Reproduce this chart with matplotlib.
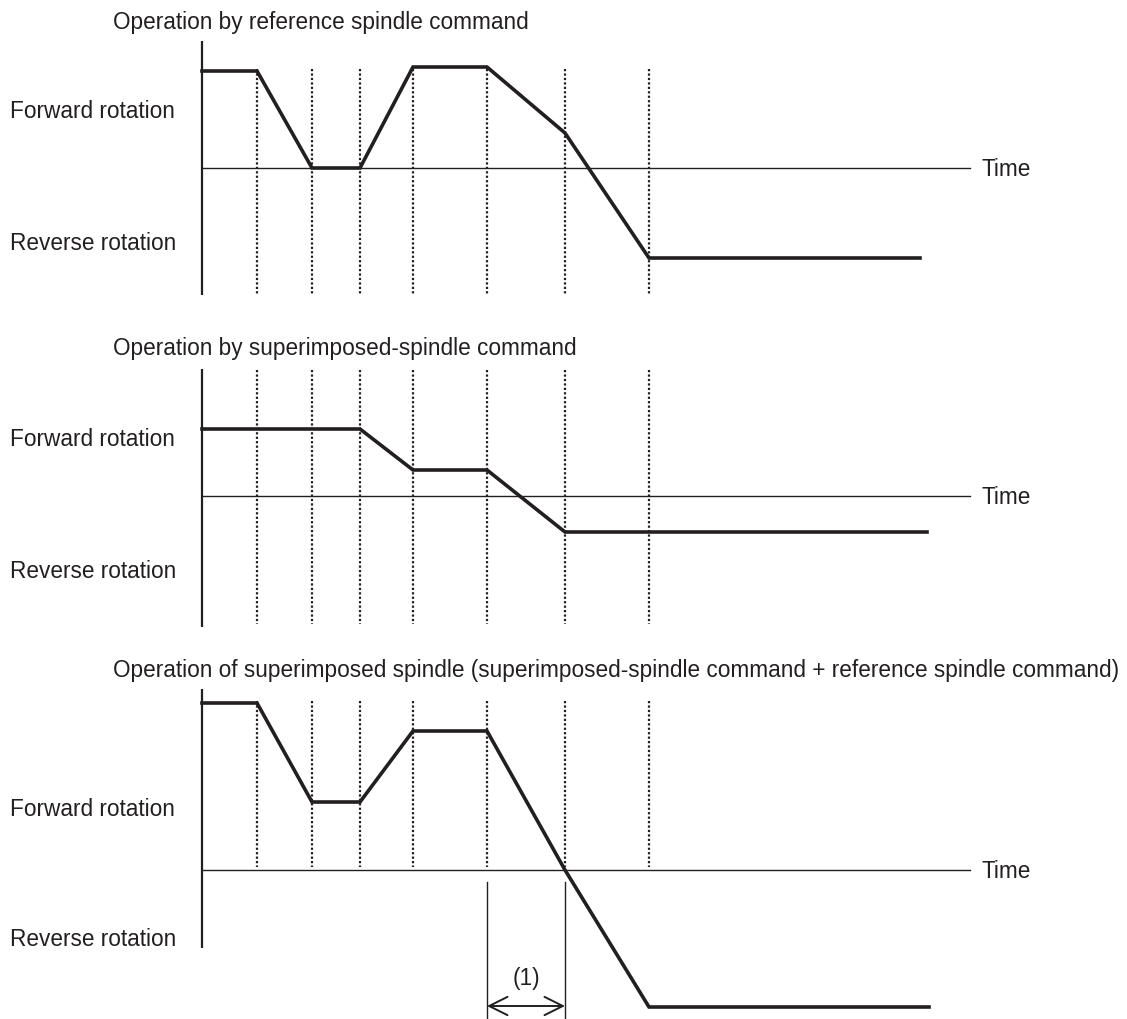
import matplotlib.pyplot as plt

# time marks (dotted lines) and speed profiles, in arbitrary units
t_marks = [55, 110, 158, 211, 285, 363, 447]

t_ref = [0, 55, 110, 158, 211, 285, 363, 447, 718]
v_ref = [97, 97, 0, 0, 101, 101, 35, -90, -90]

t_sup_cmd = [0, 158, 211, 285, 363, 725]
v_sup_cmd = [67, 67, 26, 26, -36, -36]

t_sup = [0, 55, 110, 158, 211, 285, 363, 447, 727]
v_sup = [167, 167, 68, 68, 139, 139, 0, -137, -137]

titles = ["Operation by reference spindle command",
          "Operation by superimposed-spindle command",
          "Operation of superimposed spindle (superimposed-spindle command + reference spindle command)"]
fwd_label = "Forward rotation"
rev_label = "Reverse rotation"
time_label = "Time"
bracket_label = "(1)"

W, H = 1127, 1019
C = "#231f20"
FS = 16.3
plt.rcParams['font.family'] = ['Liberation Sans', 'DejaVu Sans']

fig = plt.figure(figsize=(W / 100, H / 100), dpi=100)

# panel layout in pixels: (top, bottom, baseline)
panels = [(0, 330, 168), (330, 650, 496), (650, 1019, 870)]
series = [(t_ref, v_ref), (t_sup_cmd, v_sup_cmd), (t_sup, v_sup)]
axis_span = [(127, -127), (127, -131), (181, -78)]
dot_span = [(99, -127), (126, -128), (169, 3)]
title_y = [23, 349, 670]
fwd_y = [112, 440, 809]
rev_y = [244, 571, 939]

x0 = 202
axes = []
for i, (p0, p1, b) in enumerate(panels):
    ax = fig.add_axes([0, (H - p1) / H, 1, (p1 - p0) / H])
    ax.set_xlim(-x0, W - x0)
    ax.set_ylim(b - p1, b - p0)
    ax.axis('off')
    axes.append(ax)

    ax.plot([0, 0], axis_span[i], color=C, lw=1.6, solid_capstyle='butt')
    ax.plot([0, 768], [0, 0], color=C, lw=1.0)
    for tm in t_marks:
        ax.plot([tm, tm], dot_span[i], color=C, lw=1.6, linestyle=(0, (1, 1)))
    t, v = series[i]
    ax.plot(t, v, color=C, lw=2.6, solid_joinstyle='miter')

    ax.text(113 - x0, b - title_y[i], titles[i], fontsize=FS, color=C, va='center', ha='left')
    ax.text(10 - x0, b - fwd_y[i], fwd_label, fontsize=FS, color=C, va='center', ha='left')
    ax.text(10 - x0, b - rev_y[i], rev_label, fontsize=FS, color=C, va='center', ha='left')
    ax.text(779, -1, time_label, fontsize=FS, color=C, va='center', ha='left')

# bracket for (1) on the bottom panel
ax = axes[2]
for tb in [285, 363]:
    ax.plot([tb, tb], [-12, -149], color=C, lw=1.0, clip_on=False)
ax.annotate("", xy=(285, -136), xytext=(363, -136),
            arrowprops=dict(arrowstyle="<->,head_length=0.6,head_width=0.3", color=C, lw=1.4,
                            mutation_scale=22, shrinkA=0, shrinkB=0))
ax.text(324, -108, bracket_label, fontsize=FS, color=C, va='center', ha='center')

fig.savefig("out.png", dpi=100)
